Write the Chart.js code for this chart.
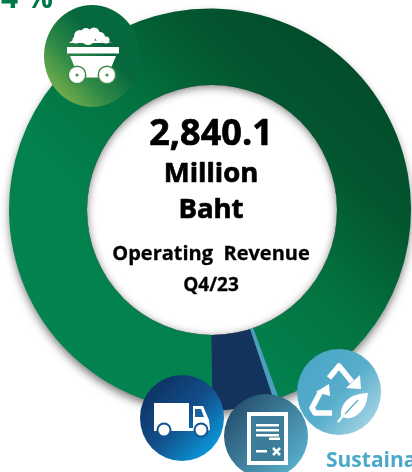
<!DOCTYPE html>
<html><head><meta charset="utf-8">
<style>html,body{margin:0;padding:0;background:#fff;overflow:hidden}canvas{display:block}</style>
<script src="https://cdn.jsdelivr.net/npm/chart.js@4"></script>
</head><body>
<canvas id="c" width="412" height="472"></canvas>
<script>
const categories = ['Coal', 'Sustainable', 'Logistics'];
const values = [94.63, 0.43, 4.94];
const centerLines = ['2,840.1', 'Million', 'Baht', 'Operating  Revenue', 'Q4/23'];
const cornerLabels = ['4 %', 'Sustaina'];
const FONT = '"Open Sans", "Noto Sans", sans-serif';

function grad(ctx, x0, y0, x1, y1, stops) {
  const g = ctx.createLinearGradient(x0, y0, x1, y1);
  stops.forEach((s, i) => g.addColorStop(i / (stops.length - 1), s));
  return g;
}
function disc(ctx, cx, cy, rx, ry, fill) {
  ctx.beginPath(); ctx.ellipse(cx, cy, rx, ry, 0, 0, Math.PI * 2); ctx.fillStyle = fill; ctx.fill();
}
function coalIcon(ctx) {
  ctx.fillStyle = '#fff';
  ctx.beginPath();
  ctx.moveTo(69, 43); ctx.lineTo(76, 38); ctx.lineTo(113, 43); ctx.closePath(); ctx.fill();
  [[80, 36, 6], [86, 33, 5], [94, 33, 5.5], [100, 37, 5], [106, 40, 3.5], [88, 38, 7], [76, 40, 3.5]].forEach(([x, y, r]) => disc(ctx, x, y, r, r, '#fff'));
  ctx.fillRect(67, 47, 52, 6.5);
  ctx.beginPath(); ctx.moveTo(70, 56); ctx.lineTo(116, 56); ctx.lineTo(111, 68); ctx.lineTo(100, 77.5);
  ctx.lineTo(85, 77.5); ctx.lineTo(75, 68); ctx.closePath(); ctx.fill();
  [[77, 75], [107, 75]].forEach(([x, y]) => {
    disc(ctx, x, y, 9.5, 9.5, '#3a8a48');
    disc(ctx, x, y, 8, 8, '#fff');
    disc(ctx, x, y, 1.6, 1.6, '#4f8f55');
  });
}
function truckIcon(ctx) {
  ctx.fillStyle = '#fff';
  ctx.fillRect(154, 403, 35, 25);
  ctx.beginPath(); ctx.moveTo(193, 406); ctx.lineTo(203, 406); ctx.lineTo(209, 420); ctx.lineTo(210, 430);
  ctx.lineTo(193, 431); ctx.closePath(); ctx.fill();
  ctx.fillRect(154, 428, 55, 3);
  ctx.fillStyle = '#1a63a0';
  ctx.beginPath(); ctx.moveTo(195, 409); ctx.lineTo(201, 409); ctx.lineTo(204, 417); ctx.lineTo(195, 417); ctx.closePath(); ctx.fill();
  [[164, 430], [201, 430]].forEach(([x, y]) => {
    disc(ctx, x, y, 7.5, 7.5, '#11548f');
    disc(ctx, x, y, 5.5, 5.5, '#fff');
  });
}
function docIcon(ctx) {
  ctx.fillStyle = '#fff';
  ctx.fillRect(247, 412, 41, 53);
  ctx.fillStyle = '#3c7d99';
  ctx.fillRect(251, 416, 33, 45);
  ctx.fillStyle = '#fff';
  ctx.fillRect(256, 424, 23, 2.5);
  ctx.fillRect(256, 429, 23, 2.5);
  ctx.fillRect(256, 434, 23, 2.5);
  ctx.fillRect(269, 437.5, 11, 2.5);
  ctx.fillRect(256, 450, 11, 2.5);
  ctx.strokeStyle = '#fff'; ctx.lineWidth = 2.5;
  ctx.beginPath(); ctx.moveTo(273, 448); ctx.lineTo(280, 455); ctx.moveTo(280, 448); ctx.lineTo(273, 455); ctx.stroke();
}
function recycleIcon(ctx) {
  ctx.strokeStyle = '#fff'; ctx.fillStyle = '#fff'; ctx.lineWidth = 5.5; ctx.lineJoin = 'round'; ctx.lineCap = 'butt';
  ctx.beginPath(); ctx.moveTo(329, 378); ctx.lineTo(339, 366); ctx.lineTo(352, 382); ctx.stroke();
  ctx.beginPath(); ctx.moveTo(361, 389); ctx.lineTo(346, 388); ctx.lineTo(360, 375); ctx.closePath(); ctx.fill();
  ctx.beginPath(); ctx.moveTo(332, 413); ctx.lineTo(315, 413); ctx.lineTo(312, 408); ctx.lineTo(321, 391); ctx.stroke();
  ctx.beginPath(); ctx.moveTo(316, 392); ctx.lineTo(330, 396); ctx.lineTo(329, 384); ctx.closePath(); ctx.fill();
  ctx.beginPath();
  ctx.moveTo(368, 393);
  ctx.bezierCurveTo(352, 393, 340, 402, 341, 416);
  ctx.bezierCurveTo(345, 419, 352, 419, 357, 415);
  ctx.bezierCurveTo(365, 409, 367, 402, 368, 393);
  ctx.closePath(); ctx.fill();
  ctx.lineWidth = 2.2; ctx.beginPath(); ctx.moveTo(338, 422); ctx.lineTo(346, 412); ctx.stroke();
  ctx.strokeStyle = '#5cabc9'; ctx.lineWidth = 1.2; ctx.beginPath(); ctx.moveTo(345, 414); ctx.lineTo(358, 400); ctx.stroke();
}
function boldText(ctx, s, x, y) {
  ctx.fillText(s, x, y); ctx.strokeText(s, x, y);
}

const decor = {
  id: 'decor',
  beforeDatasetsDraw(chart) {
    const ctx = chart.ctx, m = chart.getDatasetMeta(0).data[0];
    ctx.save();
    ctx.shadowColor = 'rgba(0,0,0,0.55)'; ctx.shadowBlur = 10; ctx.shadowOffsetX = 0; ctx.shadowOffsetY = 5;
    disc(ctx, m.x, m.y, m.outerRadius - 1, m.outerRadius - 1, '#076b40');
    ctx.restore();
  },
  afterDatasetsDraw(chart) {
    const ctx = chart.ctx;
    const hx = 212, hy = 210, hr = 125;
    disc(ctx, hx, hy, hr, hr, '#fff');
    ctx.save();
    ctx.beginPath(); ctx.arc(hx, hy, hr, 0, Math.PI * 2); ctx.clip();
    ctx.shadowColor = 'rgba(0,0,0,0.5)'; ctx.shadowBlur = 9; ctx.shadowOffsetX = 0; ctx.shadowOffsetY = 2;
    ctx.beginPath(); ctx.rect(0, 0, 412, 472); ctx.arc(hx, hy, hr, 0, Math.PI * 2, true);
    ctx.fillStyle = '#000'; ctx.fill('evenodd');
    ctx.restore();

    ctx.save();
    ctx.fillStyle = '#000'; ctx.strokeStyle = '#000'; ctx.lineJoin = 'round'; ctx.textAlign = 'center'; ctx.textBaseline = 'alphabetic';
    const cx = 211;
    ctx.lineWidth = 0.7;
    ctx.font = 'bold 36px ' + FONT; boldText(ctx, centerLines[0], cx, 145);
    ctx.font = 'bold 27.5px ' + FONT; boldText(ctx, centerLines[1], cx, 182);
    boldText(ctx, centerLines[2], cx, 218);
    ctx.lineWidth = 0.3;
    ctx.font = 'bold 20px ' + FONT; boldText(ctx, centerLines[3], cx, 260);
    ctx.font = 'bold 19px ' + FONT; boldText(ctx, centerLines[4], cx, 291);

    disc(ctx, 92, 56, 48, 51, grad(ctx, 55, 95, 130, 25, ['#79b04a', '#2f8a47', '#07683e', '#056a3d']));
    coalIcon(ctx);
    disc(ctx, 182, 418, 42, 43, grad(ctx, 150, 385, 215, 450, ['#0e3263', '#124e8a', '#0a9bdc']));
    truckIcon(ctx);
    disc(ctx, 339, 392, 42, 43, grad(ctx, 305, 365, 375, 425, ['#4ba6c6', '#58aecb', '#a9d6e6']));
    recycleIcon(ctx);
    disc(ctx, 266, 436, 42, 42, grad(ctx, 232, 405, 300, 465, ['#24506f', '#3f7f9b', '#57afcb']));
    docIcon(ctx);

    ctx.textAlign = 'left';
    ctx.fillStyle = '#00794a'; ctx.font = 'bold 30px ' + FONT; ctx.fillText(cornerLabels[0], 1, 8);
    ctx.fillStyle = '#4ba8c9'; ctx.font = 'bold 21px ' + FONT; ctx.fillText(cornerLabels[1], 326, 467);
    ctx.restore();
  }
};

new Chart(document.getElementById('c'), {
  type: 'doughnut',
  data: {
    labels: categories,
    datasets: [{
      data: values,
      borderWidth: 0,
      hoverOffset: 0,
      backgroundColor(c) {
        const i = c.dataIndex, a = c.chart.chartArea;
        if (!a) return '#087c4a';
        if (i === 0) {
          return grad(c.chart.ctx, 60, 300, 330, 20, ['#03834f', '#02804d', '#03733f', '#03562f', '#024a2a']);
        }
        return i === 1 ? '#4e9cc0' : '#13335c';
      }
    }]
  },
  options: {
    responsive: false, animation: false, rotation: 179.3, cutout: '60%',
    layout: { padding: { left: 9, right: 1, top: 8, bottom: 61 } },
    plugins: { legend: { display: false }, tooltip: { enabled: false } }
  },
  plugins: [decor]
});
</script>
</body></html>
